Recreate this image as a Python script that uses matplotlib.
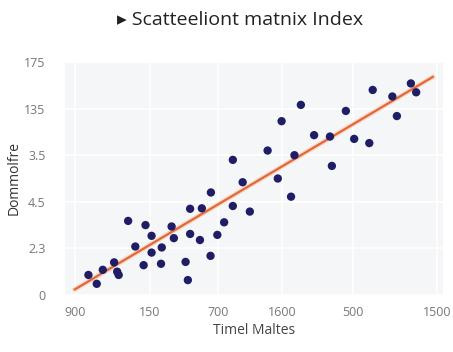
import matplotlib
matplotlib.use("Agg")
import matplotlib.pyplot as plt
import matplotlib.patheffects as pe

# ---- data ----
x_vals = [6.2, 8.4, 10.0, 13.0, 13.8, 14.2, 16.7, 18.6, 21.3, 20.8,
          22.9, 22.9, 25.6, 25.4, 28.2, 28.8, 31.9, 32.5, 33.1, 33.1,
          36.2, 35.7, 38.6, 38.5, 40.3, 42.1, 44.4, 44.4, 47.0, 48.9,
          53.6, 56.3, 57.3, 59.8, 60.7, 62.4, 65.9, 70.1, 70.6, 74.3,
          76.5, 80.5, 81.4, 86.6, 87.8, 91.5, 92.9]
y_vals = [0.43, 0.24, 0.54, 0.70, 0.50, 0.43, 1.59, 1.04, 1.50, 0.64,
          1.27, 0.91, 1.02, 0.67, 1.47, 1.22, 0.71, 0.32, 1.85, 1.31,
          1.86, 1.18, 2.20, 0.84, 1.29, 1.56, 2.90, 1.91, 2.42, 1.79,
          3.10, 2.50, 3.73, 2.11, 3.00, 4.08, 3.43, 3.40, 2.77, 3.95,
          3.35, 3.26, 4.40, 4.26, 3.84, 4.54, 4.35]
trend_x = [2.6, 97.3]
trend_y = [0.12, 4.68]

x_tick_pos = [2.6, 22.5, 40.5, 57.4, 76.2, 98.4]
x_tick_labels = ["900", "150", "700", "1600", "500", "1500"]
y_tick_pos = [0, 1, 2, 3, 4, 5]
y_tick_labels = ["0", "2.3", "4.5", "3.5", "135", "175"]

title = "\u25b8 Scatteeliont matnix Index"
x_label = "Timel Maltes"
y_label = "Dommolfre"

# ---- figure ----
plt.rcParams['font.family'] = ['Open Sans', 'DejaVu Sans']
fig = plt.figure(figsize=(4.53, 3.52), dpi=100)
ax = fig.add_axes([65/453, 1 - 295/352, (443 - 65)/453, (295 - 62)/352])
ax.set_facecolor('#f5f6f8')
for s in ax.spines.values():
    s.set_visible(False)
ax.grid(True, color='white', linewidth=1.2)
ax.set_axisbelow(True)

ax.plot(trend_x, trend_y, color='#e2683a', linewidth=1.6, zorder=2,
        path_effects=[pe.Stroke(linewidth=3.5, foreground='#f6c7a8', alpha=0.6), pe.Normal()])
ax.scatter(x_vals, y_vals, s=36, color='#1f1d66', edgecolors='none', zorder=3)

ax.set_xlim(0, 100)
ax.set_ylim(0, 5)
ax.set_xticks(x_tick_pos)
ax.set_xticklabels(x_tick_labels)
ax.set_yticks(y_tick_pos)
ax.set_yticklabels(y_tick_labels)
ax.tick_params(length=0, labelsize=9, colors='#777777', pad=8)
ax.tick_params(axis='y', pad=14)

ax.set_xlabel(x_label, fontsize=10, color='#444444', labelpad=3)
ax.set_ylabel(y_label, fontsize=10, color='#333333', labelpad=2)
fig.text(0.53, 1 - 20/352, title, ha='center', va='center', fontsize=14, color='#222222')

fig.savefig('out.png', dpi=100, facecolor='white')
